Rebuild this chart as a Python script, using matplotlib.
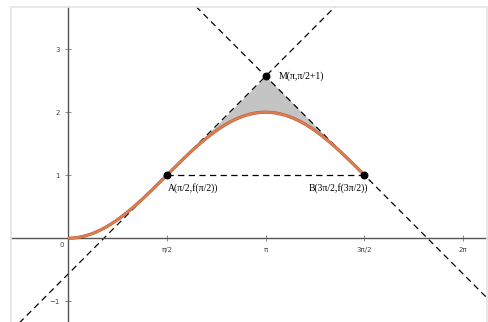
import numpy as np
import matplotlib.pyplot as plt
from matplotlib.patches import Rectangle

# curve f(x) = 1 - cos(x), drawn on [0, 3pi/2]
x_start, x_end = 0.0, 3 * np.pi / 2
point_names = ["A(π/2,f(π/2))", "B(3π/2,f(3π/2))", "M(π,π/2+1)"]
point_x = [np.pi / 2, 3 * np.pi / 2, np.pi]
point_y = [1.0, 1.0, np.pi / 2 + 1]
xtick_pos = [np.pi / 2, np.pi, 3 * np.pi / 2, 2 * np.pi]
xtick_labels = ["π/2", "π", "3π/2", "2π"]
ytick_pos = [-1, 1, 2, 3]
ytick_labels = ["−1", "1", "2", "3"]


def f(x):
    return 1 - np.cos(x)


fig = plt.figure(figsize=(4.89, 3.22), dpi=100)
ax = fig.add_axes([11 / 489, 0, 476 / 489, 315 / 322])
xmin, xmax = -0.906, 6.66
ymin, ymax = -1.33, 3.67
ax.set_xlim(xmin, xmax)
ax.set_ylim(ymin, ymax)

# light frame like the graphics view
fig.patches.append(Rectangle((11 / 489, -0.01), 476 / 489, 315 / 322 + 0.01,
                             transform=fig.transFigure, fill=False,
                             edgecolor="#e4e4e4", lw=1.2, zorder=0))

for s in ["top", "right"]:
    ax.spines[s].set_visible(False)
ax.spines["left"].set_position(("data", 0))
ax.spines["bottom"].set_position(("data", 0))
for s in ["left", "bottom"]:
    ax.spines[s].set_color("#555555")
    ax.spines[s].set_linewidth(1.0)

ax.set_xticks(xtick_pos)
ax.set_xticklabels(xtick_labels)
ax.set_yticks(ytick_pos)
ax.set_yticklabels(ytick_labels)
ax.tick_params(direction="inout", length=4, width=0.6, color="#777777",
               labelsize=5, labelcolor="#444444", pad=4)
ax.text(-0.07, -0.06, "0", fontsize=5, color="#444444", ha="right", va="top")

ax.set_facecolor("white")

# tangents at A and B
xa, xb, xm = point_x
xt = np.array([xmin, xmax])
ax.plot(xt, (xt - xa) + f(xa), ls=(0, (5, 3.5)), color="black", lw=0.9)
ax.plot(xt, -(xt - xb) + f(xb), ls=(0, (5, 3.5)), color="black", lw=0.9)
# chord AB
ax.plot([xa, xb], [f(xa), f(xb)], ls=(0, (5, 3.5)), color="black", lw=0.9)

# shaded region between tangents and curve
xs = np.linspace(xa, xb, 400)
upper = np.minimum((xs - xa) + f(xa), -(xs - xb) + f(xb))
ax.fill_between(xs, f(xs), upper, color="#c4c4c4", lw=0, zorder=1)

# curve
xc = np.linspace(x_start, x_end, 500)
ax.plot(xc, f(xc), color="#b55a35", lw=2.3, zorder=3, solid_capstyle="butt")
ax.plot(xc, f(xc), color="#dc7c50", lw=1.7, zorder=3, solid_capstyle="butt")

# points and labels
ax.scatter(point_x, point_y, s=22, color="black", zorder=5)
ax.text(xa + 0.02, f(xa) - 0.12, point_names[0], fontsize=7,
        family="Liberation Serif", ha="left", va="top")
ax.text(xb + 0.05, f(xb) - 0.12, point_names[1], fontsize=7,
        family="Liberation Serif", ha="right", va="top")
ax.text(xm + 0.2, point_y[2], point_names[2], fontsize=7,
        family="Liberation Serif", ha="left", va="center")

plt.savefig("out.png", dpi=100)
